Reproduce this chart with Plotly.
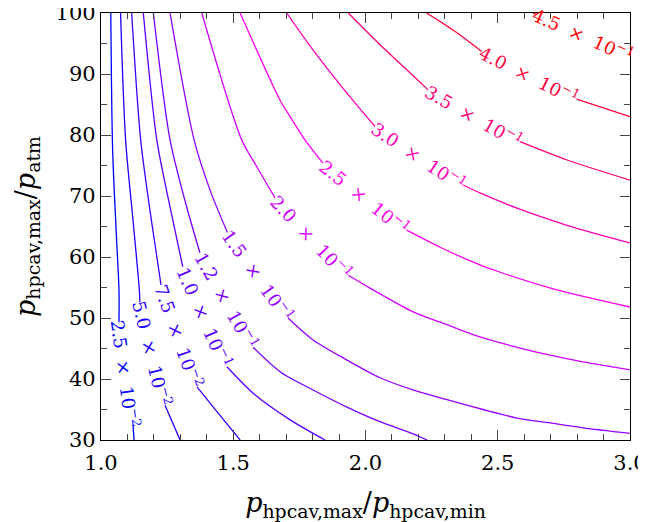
import math
import plotly.graph_objects as go

# ---------------- data ----------------
levels = [0.025, 0.05, 0.075, 0.1, 0.125, 0.15, 0.2, 0.25, 0.3, 0.35, 0.4, 0.45]
level_labels = ["2.5", "5.0", "7.5", "1.0", "1.2", "1.5", "2.0", "2.5", "3.0", "3.5", "4.0", "4.5"]
level_exponents = ["−2", "−2", "−2", "−1", "−1", "−1", "−1", "−1", "−1", "−1", "−1", "−1"]

# Traced contour lines; None marks the spot where the inline label sits
c0025_x = [1.037, 1.044, 1.059, 1.068, 1.068, None, 1.121, 1.125]
c0025_y = [100, 77.5, 62.8, 54.6, 49.3, None, 32.5, 30]

c0050_x = [1.074, 1.093, 1.122, 1.145, 1.147, None, 1.242, 1.299]
c0050_y = [100, 79.2, 65.6, 54.6, 52.6, None, 35.7, 30]

c0075_x = [1.116, 1.150, 1.192, 1.227, None, 1.363, 1.439, 1.526]
c0075_y = [100, 79.2, 65.6, 55.4, None, 38.7, 34.6, 30]

c0100_x = [1.160, 1.211, 1.261, 1.309, None, 1.476, 1.582, 1.715, 1.847]
c0100_y = [100, 79.2, 68.2, 58.4, None, 42.0, 37.4, 33.3, 30]

c0125_x = [1.198, 1.261, 1.324, 1.374, None, 1.575, 1.677, 1.802, 1.930, 2.055, 2.180, 2.233]
c0125_y = [100, 79.2, 68.2, 60.7, None, 45.2, 41.2, 38.2, 35.4, 33.0, 31.0, 30]

c0150_x = [1.261, 1.352, 1.412, 1.478, None, 1.707, 1.802, 1.930, 2.055, 2.180, 2.308, 2.444, 2.573, 2.698, 2.822, 3.0]
c0150_y = [100, 79.2, 71.0, 64.0, None, 50.0, 46.4, 43.1, 40.2, 38.2, 36.6, 35.0, 33.6, 32.8, 32.0, 31.1]

c0200_x = [1.381, 1.532, 1.589, 1.658, None, 1.935, 2.017, 2.180, 2.308, 2.433, 2.573, 2.698, 2.822, 3.0]
c0200_y = [100, 79.2, 74.8, 69.7, None, 57.0, 54.9, 51.0, 48.9, 46.9, 45.2, 43.9, 42.8, 41.5]

c0250_x = [1.526, 1.677, 1.715, 1.771, 1.839, None, 2.156, 2.282, 2.433, 2.509, 2.724, 3.0]
c0250_y = [100, 85.7, 83.0, 79.2, 75.4, None, 64.4, 61.6, 58.7, 57.5, 54.6, 51.8]

c0300_x = [1.702, 1.802, 1.929, 2.036, None, 2.369, 2.433, 2.573, 2.762, 3.0]
c0300_y = [100, 93.9, 86.9, 81.4, None, 71.8, 70.5, 68.0, 65.2, 62.3]

c0350_x = [1.935, 2.055, 2.156, 2.237, None, 2.584, 2.762, 3.0]
c0350_y = [100, 94.8, 90.7, 87.4, None, 78.9, 75.9, 72.6]

c0400_x = [2.231, 2.331, 2.439, None, 2.798, 3.0]
c0400_y = [100, 97.2, 93.7, None, 85.9, 83.0]

c0450_x = [2.633, 2.648, None, 3.0]
c0450_y = [100, 99.75, None, 92.95]

contour_x = [c0025_x, c0050_x, c0075_x, c0100_x, c0125_x, c0150_x,
             c0200_x, c0250_x, c0300_x, c0350_x, c0400_x, c0450_x]
contour_y = [c0025_y, c0050_y, c0075_y, c0100_y, c0125_y, c0150_y,
             c0200_y, c0250_y, c0300_y, c0350_y, c0400_y, c0450_y]

x_range = [1.0, 3.0]
y_range = [30, 100]

# ---------------- layout geometry ----------------
# the page body has a default 8px margin, so the figure is drawn 8px in
W, H = 638, 514
ML, MR, MT, MB = 93, 16, 5, 82
plot_w = W - ML - MR
plot_h = H - MT - MB
sx = plot_w / (x_range[1] - x_range[0])
sy = plot_h / (y_range[1] - y_range[0])

FONT = "DejaVu Serif"


def level_color(z):
    t = (z - min(levels)) / (max(levels) - min(levels))
    if t <= 0.5:
        r, b = 510 * t, 255
    else:
        r, b = 255, 255 - 510 * (t - 0.5)
    return "rgb(%d,0,%d)" % (round(r), round(b))


fig = go.Figure()
annotations = []
for z, xs, ys, mant, ex in zip(levels, contour_x, contour_y, level_labels, level_exponents):
    col = level_color(z)
    fig.add_trace(go.Scatter(x=xs, y=ys, mode="lines",
                             line=dict(color=col, width=1.3, shape="spline", smoothing=0.8),
                             connectgaps=False, hoverinfo="skip", showlegend=False,
                             cliponaxis=True))
    gi = xs.index(None)
    x0, y0 = xs[gi - 1], ys[gi - 1]
    x1, y1 = xs[gi + 1], ys[gi + 1]
    ang = math.degrees(math.atan2((y0 - y1) * sy, (x1 - x0) * sx))
    annotations.append(dict(
        x=(x0 + x1) / 2, y=(y0 + y1) / 2, xref="x", yref="y",
        text="%s&nbsp;&nbsp;×&nbsp;&nbsp;10<sup>%s</sup>" % (mant, ex),
        textangle=ang, showarrow=False, xanchor="center", yanchor="middle",
        font=dict(family=FONT, size=18, color=col),
    ))

axis_common = dict(
    showline=True, linecolor="black", linewidth=1.2, mirror="ticks",
    ticks="inside", ticklen=10, tickwidth=1, tickcolor="#444",
    showgrid=False, zeroline=False, automargin=False,
    ticklabeloverflow="allow",
    tickfont=dict(family=FONT, size=21, color="black"),
)

fig.update_layout(
    width=W, height=H,
    margin=dict(l=ML, r=MR, t=MT, b=MB),
    paper_bgcolor="white", plot_bgcolor="white",
    annotations=annotations,
    xaxis=dict(range=x_range, dtick=0.5, tick0=1.0, tickformat=".1f",
               ticklabelstandoff=4,
               minor=dict(dtick=0.1, ticks="inside", ticklen=6, tickcolor="#444", tickwidth=1),
               title=dict(text="<i>p</i><sub>hpcav,max</sub>/<i>p</i><sub>hpcav,min</sub>",
                          font=dict(family=FONT, size=27, color="black"), standoff=20),
               **axis_common),
    yaxis=dict(range=y_range, dtick=10, tick0=30,
               minor=dict(dtick=5, ticks="inside", ticklen=6, tickcolor="#444", tickwidth=1),
               title=dict(text="<i>p</i><sub>hpcav,max</sub>/<i>p</i><sub>atm</sub>",
                          font=dict(family=FONT, size=27, color="black"), standoff=12),
               **axis_common),
)

fig.write_html("out.html")
